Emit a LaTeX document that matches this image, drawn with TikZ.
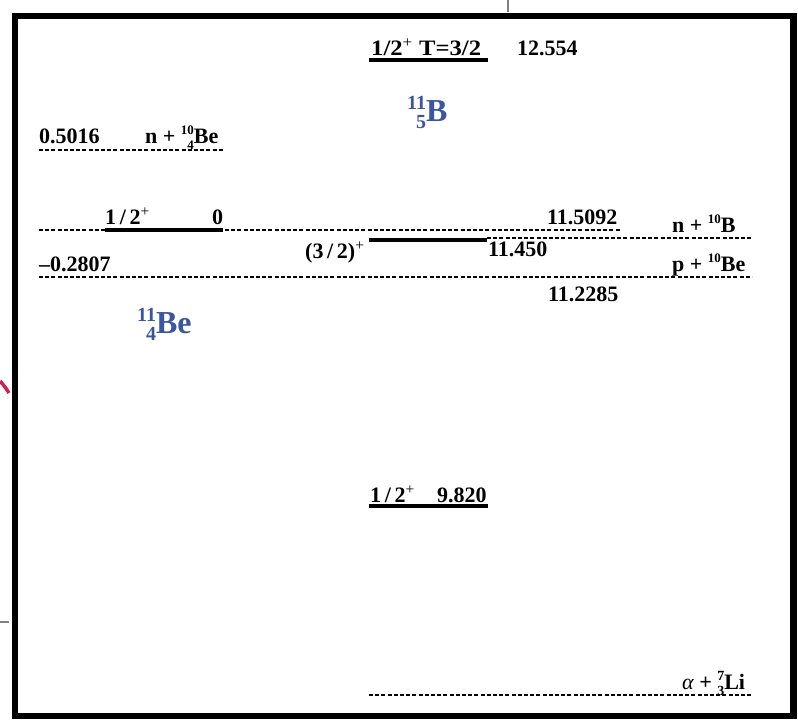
\documentclass[tikz,border=0pt]{standalone}
\usepackage{graphicx}
\usepackage{fontspec}
\setmainfont{Liberation Serif}
\definecolor{nucblue}{HTML}{3A55A2}
\definecolor{strayred}{HTML}{C8264E}
\newcommand{\iso}[6]{% size, mass, Z, element, raise, lower
  \setbox0\hbox{\fontsize{#1}{#1}\selectfont #2}%
  \setbox2\hbox{\fontsize{#1}{#1}\selectfont #3}%
  \ifdim\wd0>\wd2 \dimen0=\wd0 \else \dimen0=\wd2 \fi
  \hbox to\dimen0{\hfill\raise#5\box0}\llap{\lower#6\box2}#4}
\newcommand{\upscr}[3]{\raise#3\hbox{\fontsize{#1}{#1}\selectfont #2}}
\newcommand{\pl}{\textsuperscript{\mdseries +}}
\tikzset{
  lab/.style={inner sep=0pt, anchor=base west, font=\fontsize{22}{26}\selectfont\bfseries},
  blab/.style={inner sep=0pt, anchor=base west, text=nucblue, font=\fontsize{32}{36}\selectfont\bfseries},
  lvl/.style={line width=3.6pt},
  thr/.style={line width=1.8pt, dash pattern=on 4pt off 2.2pt},
}
\begin{document}
\begin{tikzpicture}[x=1pt,y=-1pt]
\useasboundingbox (0,0) rectangle (798,721);
% stray marks
\draw[gray, line width=1.5pt] (508,0) -- (508,12);
\draw[gray, line width=1.5pt] (0,622) -- (9,622);
\draw[strayred, line width=3.5pt] (0,381) to[bend left=5] (9,393);
% frame
\draw[line width=6.5pt] (15,16) rectangle (793.5,716);
% 12.554 level
\coordinate (t1) at (369,60); \coordinate (t2) at (488,60);
\draw[lvl] (t1) -- (t2);
\node[lab] (t3) at (371,55) {\scalebox{1.12}[1]{1/2\pl\ T=3/2}};
\node[lab] (t4) at (517,55) {12.554};
\node[blab] (b11) at (407,121) {\iso{20}{11}{5}{B}{12pt}{7pt}};
% 0.5016
\coordinate (a1) at (39,150); \coordinate (a2) at (223,150);
\draw[thr] (a1) -- (a2);
\node[lab] (a3) at (39,143) {0.5016};
\node[lab] (a4) at (145,143) {n + \iso{13}{10}{4}{Be}{9pt}{6pt}};
% 0 level / 11.5092
\coordinate (g1) at (39,230); \coordinate (g2) at (620,230);
\coordinate (g3) at (105,230); \coordinate (g4) at (223,230);
\draw[thr] (g1) -- (g2);
\draw[lvl] (g3) -- (g4);
\node[lab] (g5) at (105,224) {1\,/\,2\pl};
\node[lab] (g6) at (212,224) {0};
\node[lab] (g7) at (547,224) {11.5092};
% n + 10B
\coordinate (n1) at (487,238); \coordinate (n2) at (752,238);
\draw[thr] (n1) -- (n2);
\node[lab] (n3) at (672,232) {n + \upscr{13}{10}{8.5pt}B};
% 11.450
\coordinate (s1) at (369,240); \coordinate (s2) at (487,240);
\draw[lvl] (s1) -- (s2);
\node[lab] (s3) at (305,258) {(3\,/\,2)\pl};
\node[lab] (s4) at (488,256) {11.450};
% p + 10Be
\coordinate (p1) at (39,277); \coordinate (p2) at (752,277);
\draw[thr] (p1) -- (p2);
\node[lab] (p3) at (39,271) {\textendash0.2807};
\node[lab] (p4) at (672,271) {p + \upscr{13}{10}{8.5pt}Be};
\node[lab] (p5) at (548,301) {11.2285};
\node[blab] (be11) at (137,333) {\iso{20}{11}{4}{Be}{12pt}{7pt}};
% 9.820
\coordinate (m1) at (369,506); \coordinate (m2) at (488,506);
\draw[lvl] (m1) -- (m2);
\node[lab] (m3) at (370,502) {1\,/\,2\pl};
\node[lab] (m4) at (437,502) {9.820};
% alpha + 7Li
\coordinate (l1) at (369,695); \coordinate (l2) at (752,695);
\draw[thr] (l1) -- (l2);
\node[lab] (l3) at (682,689) {{\mdseries\itshape α} + \iso{14}{7}{3}{Li}{9pt}{6pt}};
\end{tikzpicture}
\end{document}
